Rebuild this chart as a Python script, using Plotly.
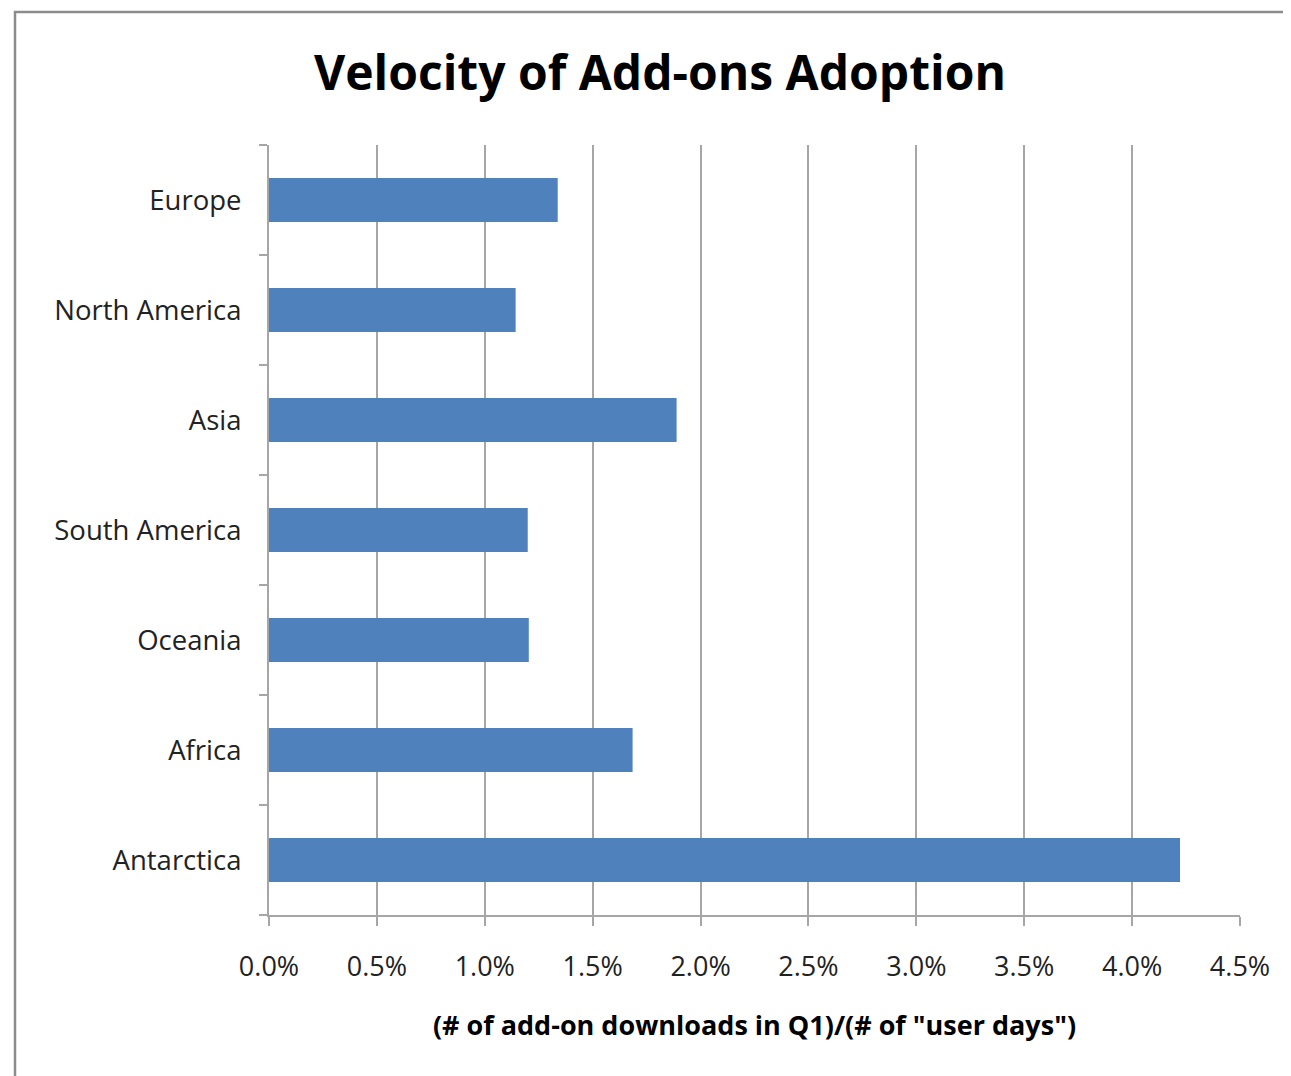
import plotly.graph_objects as go

categories = ["Europe", "North America", "Asia", "South America", "Oceania", "Africa", "Antarctica"]
values = [0.01338, 0.01143, 0.01889, 0.01199, 0.01204, 0.01685, 0.04222]
x_ticks = [0, 0.005, 0.01, 0.015, 0.02, 0.025, 0.03, 0.035, 0.04, 0.045]
x_tick_labels = ["0.0%", "0.5%", "1.0%", "1.5%", "2.0%", "2.5%", "3.0%", "3.5%", "4.0%", "4.5%"]

# page body has an 8px margin, so the figure is offset by 8px
OFF = 8
W, H = 1291 - OFF, 1076 - OFF
L, T = 269 - OFF, 145 - OFF
R = W - (1240 - OFF)
B = H - (915 - OFF)
pw, ph = W - L - R, H - T - B

FONT = "Open Sans"

fig = go.Figure(go.Bar(
    x=values, y=categories, orientation="h",
    marker=dict(color="#4F81BD", line=dict(width=0)),
    width=0.4,
))

fig.update_layout(
    width=W, height=H,
    margin=dict(l=L, r=R, t=T, b=B),
    paper_bgcolor="white", plot_bgcolor="white",
    showlegend=False,
    title=dict(text="<b>Velocity of Add-ons Adoption</b>", x=(660 - L - OFF) / pw, xref="paper",
               xanchor="center", y=1 - (73 - OFF) / H, yanchor="middle",
               font=dict(family=FONT, size=48, color="black")),
    font=dict(family=FONT, color="#222"),
)

fig.update_xaxes(
    range=[0, 0.045], tickvals=x_ticks, ticktext=x_tick_labels,
    showgrid=True, gridcolor="#a6a6a6", gridwidth=1.5,
    showline=True, linecolor="#a6a6a6", linewidth=2,
    ticks="outside", ticklen=9, tickcolor="#a6a6a6", tickwidth=1.5,
    ticklabelstandoff=18,
    tickfont=dict(family=FONT, size=27, color="#222"),
    title=dict(text="<b>(# of add-on downloads in Q1)/(# of \"user days\")</b>",
               font=dict(family=FONT, size=27, color="black"), standoff=33),
    zeroline=False, fixedrange=True,
)
fig.update_yaxes(
    categoryorder="array", categoryarray=categories[::-1],
    showgrid=False, showline=True, linecolor="#a6a6a6", linewidth=2,
    ticks="outside", ticklen=8, tickcolor="#a6a6a6", tickwidth=1.5,
    tickson="boundaries", ticklabelstandoff=20,
    tickfont=dict(family=FONT, size=27.5, color="#222"),
    fixedrange=True,
)

# chart area border (Excel-style frame)
fig.add_shape(type="rect", xref="paper", yref="paper",
              x0=(15 - OFF - L) / pw, x1=(1300 - L) / pw,
              y0=-(1090 - (T + ph)) / ph, y1=1 + (T - (12 - OFF)) / ph,
              line=dict(color="#8c8c8c", width=2.5), fillcolor="rgba(0,0,0,0)", layer="below")

fig.write_html("out.html")
